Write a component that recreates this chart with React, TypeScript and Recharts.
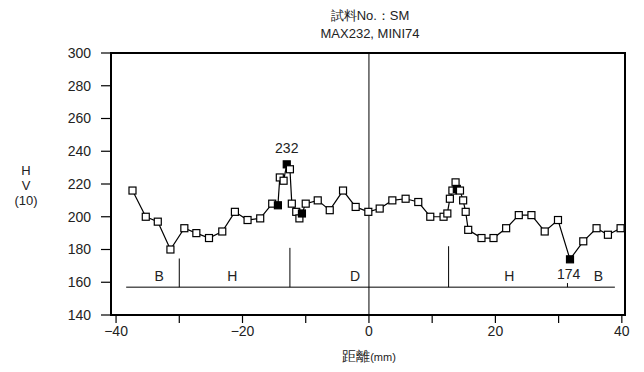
import React from 'react';
import {
  ComposedChart, Line, XAxis, YAxis, ReferenceLine, ReferenceArea, ReferenceDot,
} from 'recharts';

// 距離 (mm) と硬さ HV(10)
const distance = [
  -37.4, -35.3, -33.4, -31.4, -29.2, -27.3, -25.3, -23.2, -21.2, -19.2,
  -17.2, -15.3, -14.4, -14.1, -13.5, -13.0, -12.5, -12.2, -11.5, -11.0,
  -10.6, -10.0, -8.1, -6.2, -4.1, -2.1, -0.1, 1.7, 3.7, 5.8,
  7.8, 9.7, 11.8, 12.4, 12.8, 13.2, 13.7, 13.9, 14.4, 14.9,
  15.3, 15.7, 17.8, 19.7, 21.7, 23.7, 25.7, 27.8, 29.9, 31.8,
  33.9, 36.0, 37.8, 39.8,
];
const hardness = [
  216, 200, 197, 180, 193, 190, 187, 191, 203, 198,
  199, 208, 207, 224, 222, 232, 229, 208, 203, 199,
  202, 208, 210, 204, 216, 206, 203, 205, 210, 211,
  209, 200, 200, 202, 211, 216, 221, 217, 216, 210,
  203, 192, 187, 187, 193, 201, 201, 191, 198, 174,
  185, 193, 189, 193,
];
// 黒塗りの点 (最大・最小と重なった点)
const filledPoints = [12, 15, 20, 37, 49];

const xTicks = [-40, -30, -20, -10, 0, 10, 20, 30, 40];
const yTicks = [140, 160, 180, 200, 220, 240, 260, 280, 300];

// 領域の区切り
const zoneBaseline = { y: 157, x1: -38.4, x2: 38.9 };
const zoneDividers = [
  { x: -30.0, top: 174.5 },
  { x: -12.5, top: 181 },
  { x: 12.6, top: 182 },
  { x: 31.4, top: 159.5 },
];
const zoneLabels = [
  { x: -33.2, y: 164, text: 'B' },
  { x: -21.6, y: 164, text: 'H' },
  { x: -2.2, y: 164, text: 'D' },
  { x: 22.2, y: 164, text: 'H' },
  { x: 31.6, y: 165, text: '174' },
  { x: 36.3, y: 164, text: 'B' },
  { x: -13.0, y: 242, text: '232' },
];

const data = distance.map((d, i) => ({ d, hv: hardness[i], filled: filledPoints.includes(i) }));

const FONT = '"Liberation Sans", Arial, sans-serif';

const SquareDot = (props: any) => {
  const { cx, cy, payload } = props;
  if (cx == null || cy == null) return null;
  const s = 7;
  return (
    <rect
      x={cx - s / 2}
      y={cy - s / 2}
      width={s}
      height={s}
      fill={payload.filled ? '#000' : '#fff'}
      stroke="#000"
      strokeWidth={1.2}
    />
  );
};

export default function App() {
  return (
    <div style={{ position: 'absolute', left: 0, top: 0, width: 644, height: 372, background: '#fff', fontFamily: FONT }}>
      <div style={{ position: 'absolute', left: 0, width: 740, top: 7, textAlign: 'center', fontSize: 13, lineHeight: '18px', color: '#222' }}>
        試料No.：SM<br />MAX232, MINI74
      </div>
      <div style={{ position: 'absolute', left: 5, width: 42, top: 163, textAlign: 'center', fontSize: 13, lineHeight: '15px', color: '#222' }}>
        H<br />V<br />(10)
      </div>
      <div style={{ position: 'absolute', left: 0, width: 738, top: 348, textAlign: 'center', fontSize: 14, color: '#222' }}>
        距離<span style={{ fontSize: 11 }}>(mm)</span>
      </div>
      <ComposedChart
        width={644}
        height={372}
        data={data}
        margin={{ top: 53, right: 19, bottom: 27, left: 0 }}
      >
        <XAxis
          dataKey="d"
          type="number"
          domain={[-40.8, 40.5]}
          ticks={xTicks}
          allowDataOverflow
          tickFormatter={(v: number) => (v % 20 === 0 ? (v < 0 ? '\u2212' + Math.abs(v) : String(v)) : '')}
          tick={{ fontSize: 14, fill: '#222', fontFamily: FONT }}
          tickSize={8}
          tickMargin={3}
          height={30}
          axisLine={{ stroke: '#000', strokeWidth: 2 }}
          tickLine={{ stroke: '#000', strokeWidth: 1.2 }}
        />
        <YAxis
          type="number"
          domain={[140, 300]}
          ticks={yTicks}
          allowDataOverflow
          width={111}
          tick={{ fontSize: 14, fill: '#222', fontFamily: FONT }}
          tickSize={10}
          tickMargin={10}
          axisLine={{ stroke: '#000', strokeWidth: 2 }}
          tickLine={{ stroke: '#000', strokeWidth: 1.2 }}
        />
        <ReferenceArea x1={-40.8} x2={40.5} y1={140} y2={300} fill="none" stroke="#000" strokeWidth={2} ifOverflow="visible" />
        <ReferenceLine x={0} stroke="#000" strokeWidth={1} />
        <ReferenceLine
          segment={[{ x: zoneBaseline.x1, y: zoneBaseline.y }, { x: zoneBaseline.x2, y: zoneBaseline.y }]}
          stroke="#000"
          strokeWidth={1}
        />
        {zoneDividers.map((z, i) => (
          <ReferenceLine
            key={'div' + i}
            segment={[{ x: z.x, y: zoneBaseline.y }, { x: z.x, y: z.top }]}
            stroke="#000"
            strokeWidth={1}
          />
        ))}
        {zoneLabels.map((l, i) => (
          <ReferenceDot
            key={'lab' + i}
            x={l.x}
            y={l.y}
            r={0}
            shape={(p: any) => (
              <text x={p.cx} y={p.cy} textAnchor="middle" dominantBaseline="central" fontSize={14} fill="#222" fontFamily={FONT}>
                {l.text}
              </text>
            )}
          />
        ))}
        <Line
          dataKey="hv"
          stroke="#000"
          strokeWidth={1.2}
          dot={<SquareDot />}
          activeDot={false}
          isAnimationActive={false}
        />
      </ComposedChart>
    </div>
  );
}
